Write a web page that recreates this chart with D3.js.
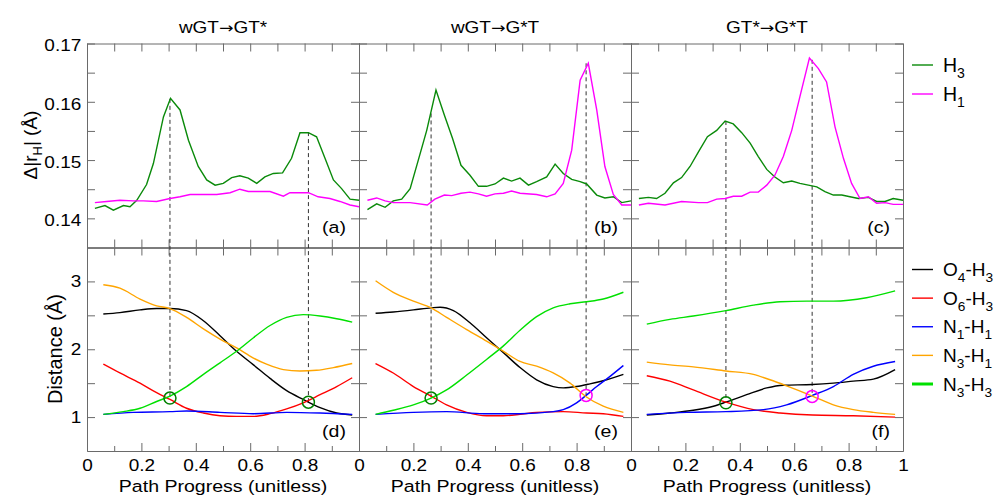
<!DOCTYPE html>
<html>
<head>
<meta charset="utf-8">
<script src="https://cdn.jsdelivr.net/npm/d3@7"></script>
<style>
  body { margin: 0; background: #fff; }
  text { font-family: "Liberation Sans", Arial, Helvetica, sans-serif; }
</style>
</head>
<body>
<svg id="chart" width="997" height="495"></svg>
<script>
// panel titles and tags
var titles = [["wGT", "GT*"], ["wGT", "G*T"], ["GT*", "G*T"]];
var topTags = ["(a)", "(b)", "(c)"];
var botTags = ["(d)", "(e)", "(f)"];

// top row: delta |r_H| (A), [progress, value]
var h3A = [[0.029,0.1417],[0.066,0.1422],[0.097,0.1414],[0.134,0.1422],[0.158,0.142],[0.183,0.1431],[0.219,0.1458],[0.244,0.1494],[0.281,0.1574],[0.307,0.1606],[0.342,0.1586],[0.373,0.1534],[0.409,0.1489],[0.44,0.1466],[0.471,0.1457],[0.501,0.146],[0.532,0.147],[0.562,0.1473],[0.593,0.1469],[0.624,0.146],[0.654,0.1471],[0.685,0.1477],[0.719,0.1478],[0.752,0.1503],[0.783,0.1547],[0.814,0.1547],[0.844,0.154],[0.875,0.1503],[0.906,0.1466],[0.936,0.1451],[0.967,0.1433],[1.0,0.1431]];
var h1A = [[0.029,0.1427],[0.072,0.1429],[0.121,0.1431],[0.17,0.143],[0.207,0.143],[0.256,0.1429],[0.305,0.1434],[0.342,0.1437],[0.379,0.1441],[0.428,0.1441],[0.477,0.1441],[0.526,0.1444],[0.562,0.145],[0.593,0.1446],[0.63,0.1446],[0.673,0.1446],[0.722,0.1438],[0.746,0.1444],[0.814,0.1444],[0.85,0.1437],[0.893,0.1434],[0.93,0.1429],[0.967,0.1423],[1.0,0.142]];
var h3B = [[0.031,0.1415],[0.065,0.1425],[0.096,0.1419],[0.126,0.143],[0.157,0.1433],[0.188,0.1451],[0.218,0.15],[0.249,0.1551],[0.283,0.162],[0.314,0.1577],[0.344,0.1537],[0.375,0.1491],[0.408,0.1474],[0.439,0.1455],[0.469,0.1455],[0.5,0.1459],[0.531,0.1469],[0.561,0.1464],[0.592,0.1469],[0.623,0.1457],[0.653,0.1463],[0.69,0.1471],[0.721,0.1493],[0.751,0.1477],[0.782,0.1467],[0.813,0.1463],[0.837,0.1459],[0.874,0.144],[0.904,0.1435],[0.935,0.1437],[0.966,0.1427],[1.0,0.143]];
var h1B = [[0.031,0.1431],[0.065,0.1435],[0.096,0.143],[0.126,0.1427],[0.188,0.1427],[0.251,0.1423],[0.279,0.1433],[0.314,0.144],[0.341,0.1439],[0.375,0.1443],[0.408,0.1445],[0.439,0.1442],[0.469,0.1438],[0.5,0.1442],[0.531,0.1443],[0.561,0.1447],[0.592,0.1443],[0.653,0.1441],[0.69,0.1437],[0.721,0.1442],[0.751,0.146],[0.782,0.1517],[0.813,0.1637],[0.843,0.1666],[0.874,0.1586],[0.904,0.1489],[0.935,0.1441],[0.966,0.1423],[1.0,0.1423]];
var h3C = [[0.029,0.1434],[0.064,0.1436],[0.094,0.1434],[0.125,0.1443],[0.156,0.1461],[0.186,0.147],[0.217,0.1489],[0.248,0.1514],[0.281,0.154],[0.315,0.1551],[0.346,0.1567],[0.376,0.1562],[0.407,0.1547],[0.438,0.1529],[0.468,0.1506],[0.499,0.1484],[0.529,0.1471],[0.56,0.1461],[0.591,0.1464],[0.621,0.146],[0.652,0.1457],[0.683,0.1454],[0.713,0.1446],[0.744,0.144],[0.775,0.144],[0.805,0.1437],[0.836,0.1434],[0.873,0.1436],[0.903,0.1429],[0.934,0.1429],[0.964,0.1434],[1.0,0.1431]];
var h1C = [[0.029,0.1423],[0.064,0.1426],[0.125,0.1423],[0.186,0.1429],[0.248,0.1427],[0.281,0.1427],[0.315,0.1433],[0.346,0.1434],[0.376,0.1438],[0.407,0.1438],[0.438,0.1445],[0.468,0.1445],[0.499,0.1457],[0.529,0.1474],[0.56,0.1506],[0.591,0.1551],[0.621,0.1609],[0.656,0.1675],[0.689,0.1657],[0.719,0.1634],[0.75,0.1557],[0.781,0.1503],[0.811,0.146],[0.842,0.1434],[0.873,0.1437],[0.903,0.1426],[0.934,0.1427],[0.964,0.1424],[1.0,0.1424]];

// bottom row: distances (A)
var o4h3D = [[0.06,2.52],[0.121,2.54],[0.195,2.58],[0.256,2.6],[0.305,2.6],[0.366,2.57],[0.428,2.42],[0.489,2.2],[0.55,1.97],[0.612,1.77],[0.673,1.57],[0.734,1.39],[0.795,1.26],[0.857,1.14],[0.918,1.06],[0.975,1.03]];
var o6h3D = [[0.06,1.78],[0.121,1.65],[0.195,1.5],[0.256,1.36],[0.305,1.26],[0.366,1.13],[0.428,1.06],[0.489,1.02],[0.55,1.01],[0.612,1.01],[0.673,1.05],[0.734,1.12],[0.795,1.21],[0.857,1.33],[0.918,1.45],[0.975,1.58]];
var n1h1D = [[0.06,1.04],[0.17,1.07],[0.305,1.08],[0.366,1.09],[0.489,1.07],[0.612,1.05],[0.734,1.07],[0.857,1.06],[0.975,1.04]];
var n3h1D = [[0.06,2.95],[0.121,2.9],[0.195,2.74],[0.256,2.64],[0.305,2.6],[0.366,2.47],[0.428,2.3],[0.489,2.15],[0.55,2.02],[0.612,1.87],[0.66,1.78],[0.722,1.7],[0.783,1.68],[0.844,1.69],[0.906,1.73],[0.975,1.79]];
var n3h3D = [[0.06,1.04],[0.134,1.08],[0.195,1.13],[0.256,1.23],[0.305,1.31],[0.366,1.45],[0.428,1.63],[0.489,1.8],[0.55,1.97],[0.612,2.17],[0.673,2.35],[0.734,2.47],[0.795,2.51],[0.857,2.49],[0.918,2.45],[0.975,2.4]];

var o4h3E = [[0.061,2.53],[0.126,2.55],[0.2,2.58],[0.265,2.61],[0.298,2.62],[0.347,2.57],[0.408,2.39],[0.469,2.17],[0.531,1.95],[0.592,1.73],[0.653,1.55],[0.714,1.45],[0.751,1.43],[0.8,1.45],[0.849,1.49],[0.91,1.55],[0.972,1.63]];
var o6h3E = [[0.061,1.79],[0.126,1.65],[0.2,1.45],[0.265,1.31],[0.322,1.18],[0.396,1.07],[0.469,1.02],[0.531,1.02],[0.592,1.04],[0.653,1.07],[0.751,1.08],[0.837,1.06],[0.898,1.05],[0.972,1.01]];
var n1h1E = [[0.061,1.04],[0.2,1.07],[0.322,1.08],[0.457,1.05],[0.592,1.05],[0.714,1.08],[0.751,1.11],[0.8,1.21],[0.835,1.32],[0.874,1.45],[0.923,1.6],[0.972,1.76]];
var n3h1E = [[0.061,3.01],[0.126,2.84],[0.2,2.71],[0.265,2.61],[0.322,2.47],[0.396,2.29],[0.469,2.12],[0.531,1.97],[0.592,1.82],[0.653,1.75],[0.714,1.65],[0.776,1.5],[0.835,1.3],[0.898,1.16],[0.972,1.07]];
var n3h3E = [[0.061,1.04],[0.126,1.1],[0.2,1.18],[0.265,1.28],[0.322,1.4],[0.396,1.62],[0.469,1.85],[0.531,2.05],[0.592,2.28],[0.653,2.48],[0.714,2.61],[0.776,2.67],[0.837,2.7],[0.898,2.74],[0.972,2.84]];

var o4h3F = [[0.058,1.03],[0.143,1.06],[0.229,1.1],[0.303,1.16],[0.349,1.22],[0.425,1.33],[0.499,1.43],[0.56,1.47],[0.667,1.48],[0.744,1.5],[0.817,1.53],[0.891,1.56],[0.971,1.7]];
var o6h3F = [[0.058,1.61],[0.143,1.53],[0.229,1.4],[0.349,1.22],[0.45,1.11],[0.548,1.06],[0.667,1.03],[0.817,1.02],[0.971,1.0]];
var n1h1F = [[0.058,1.04],[0.205,1.07],[0.349,1.08],[0.487,1.11],[0.572,1.18],[0.667,1.32],[0.744,1.45],[0.817,1.63],[0.891,1.75],[0.971,1.82]];
var n3h1F = [[0.058,1.81],[0.143,1.77],[0.229,1.74],[0.349,1.68],[0.45,1.63],[0.511,1.55],[0.572,1.46],[0.667,1.31],[0.744,1.18],[0.817,1.11],[0.891,1.07],[0.971,1.04]];
var n3h3F = [[0.058,2.37],[0.143,2.44],[0.229,2.49],[0.349,2.57],[0.45,2.65],[0.548,2.7],[0.646,2.71],[0.744,2.71],[0.866,2.76],[0.971,2.86]];

// dashed guides: progress, top-row value, bottom-row distance, which H
var marksA = [[0.305,0.1605,1.28,"H3"],[0.814,0.1548,1.22,"H3"]];
var marksB = [[0.265,0.158,1.28,"H3"],[0.835,0.1666,1.32,"H1"]];
var marksC = [[0.349,0.1567,1.21,"H3"],[0.666,0.1672,1.305,"H1"]];

// ticks and legends
var xMajor = [0, 0.2, 0.4, 0.6, 0.8, 1];
var xMinor = [0.1, 0.3, 0.5, 0.7, 0.9];
var topYTicks = [0.14, 0.145, 0.15, 0.155, 0.16, 0.165, 0.17];
var botYTicks = [1, 1.5, 2, 2.5, 3];
var topLegend = ["H3", "H1"];
var botLegend = ["O4-H3", "O6-H3", "N1-H1", "N3-H1", "N3-H3"];

var topRows = [[h3A, h1A], [h3B, h1B], [h3C, h1C]];
var botRows = [[o4h3D, o6h3D, n1h1D, n3h1D, n3h3D], [o4h3E, o6h3E, n1h1E, n3h1E, n3h3E], [o4h3F, o6h3F, n1h1F, n3h1F, n3h3F]];
var marks = [marksA, marksB, marksC];

var topColors = {"H3": "#0a8a0a", "H1": "#ff00ff"};
var botColors = ["#000000", "#ff0000", "#0000ff", "#ffa500", "#00e000"];
var frameColor = "#6a6a6a";
var stretch = "scale(1.15,1)";

var svg = d3.select("#chart");
var panelW = 272, firstLeft = 87;
var yTop = d3.scaleLinear().domain([0.135, 0.17]).range([247.5, 43.5]);
var yBot = d3.scaleLinear().domain([0.5, 3.5]).range([451, 247.5]);

function label(g, x, y, str, size, anchor) {
    // horizontally stretched text to match the original print
    return g.append("text")
        .attr("transform", "translate(" + x + "," + y + ") " + stretch)
        .attr("text-anchor", anchor || "middle")
        .attr("font-size", size)
        .attr("fill", "#000")
        .text(str);
}

function subText(g, x, y, str, size) {
    // digits become subscripts
    var t = g.append("text").attr("x", x).attr("y", y).attr("font-size", size).attr("fill", "#000");
    var parts = str.match(/\d+|\D+/g);
    var down = false;
    parts.forEach(function(p) {
        var isSub = /\d/.test(p);
        var dy = isSub ? (down ? 0 : 6) : (down ? -6 : 0);
        t.append("tspan").attr("dy", dy).attr("font-size", isSub ? size * 0.72 : size).text(p);
        down = isSub;
    });
    return t;
}

function styleAxis(g) {
    g.attr("font-family", null).attr("font-size", null);
    g.selectAll("path, line").attr("stroke", frameColor).attr("stroke-width", 1);
    g.selectAll("text").attr("fill", "#000").attr("font-size", 16.5).attr("transform", stretch);
}

function drawFrame(g, x, y, yTicks, yFmt, showX, showY, last) {
    var top = y.range()[1], bottom = y.range()[0];
    g.append("g").attr("transform", "translate(0," + top + ")")
        .call(d3.axisTop(x).tickValues(xMajor.concat(xMinor)).tickSize(-8).tickSizeOuter(0).tickFormat(""))
        .call(styleAxis);
    g.append("g").attr("transform", "translate(0," + bottom + ")")
        .call(d3.axisBottom(x).tickValues(xMinor).tickSize(showX ? -5 : -8).tickSizeOuter(0).tickFormat(""))
        .call(styleAxis);
    g.append("g").attr("transform", "translate(0," + bottom + ")")
        .call(d3.axisBottom(x).tickValues(xMajor).tickSize(-8).tickSizeOuter(0).tickPadding(8)
            .tickFormat(function(d) { return showX && (d < 1 || last) ? d3.format("~g")(d) : ""; }))
        .call(styleAxis);
    var la = g.append("g").attr("transform", "translate(" + x(0) + ",0)")
        .call(d3.axisLeft(y).tickValues(yTicks).tickSize(-8).tickSizeOuter(0).tickPadding(5)
            .tickFormat(showY ? yFmt : ""))
        .call(styleAxis);
    la.selectAll("text").attr("dy", y === yTop ? "0.45em" : "0.32em");
    g.append("g").attr("transform", "translate(" + x(1) + ",0)")
        .call(d3.axisRight(y).tickValues(yTicks).tickSize(-8).tickSizeOuter(0).tickFormat(""))
        .call(styleAxis);
}

var topFmt = function(d) { return Math.round(d * 1000) % 10 === 0 ? d3.format(".2f")(d) : ""; };
var botFmt = function(d) { return d % 1 === 0 ? d3.format("d")(d) : ""; };

for (var i = 0; i < 3; i++) {
    var left = firstLeft + i * panelW;
    var x = d3.scaleLinear().domain([0, 1]).range([left, left + panelW]);
    var g = svg.append("g");

    drawFrame(g, x, yTop, topYTicks, topFmt, false, i === 0, i === 2);
    drawFrame(g, x, yBot, botYTicks, botFmt, true, i === 0, i === 2);

    // dashed guides across both rows
    g.selectAll(".guide").data(marks[i]).enter().append("line")
        .attr("x1", function(d) { return x(d[0]); })
        .attr("x2", function(d) { return x(d[0]); })
        .attr("y1", function(d) { return yTop(d[1]); })
        .attr("y2", function(d) { return yBot(d[2]); })
        .attr("stroke", "#333").attr("stroke-width", 1).attr("stroke-dasharray", "4,3");

    var topLine = d3.line().x(function(d) { return x(d[0]); }).y(function(d) { return yTop(d[1]); });
    topRows[i].forEach(function(s, k) {
        g.append("path").datum(s).attr("d", topLine).attr("fill", "none")
            .attr("stroke", topColors[topLegend[k]]).attr("stroke-width", 1.4);
    });

    var botLine = d3.line().curve(d3.curveMonotoneX)
        .x(function(d) { return x(d[0]); }).y(function(d) { return yBot(d[1]); });
    botRows[i].forEach(function(s, k) {
        g.append("path").datum(s).attr("d", botLine).attr("fill", "none")
            .attr("stroke", botColors[k]).attr("stroke-width", 1.4);
    });

    g.selectAll(".ring").data(marks[i]).enter().append("circle")
        .attr("cx", function(d) { return x(d[0]); })
        .attr("cy", function(d) { return yBot(d[2]); })
        .attr("r", 6)
        .attr("fill", "none")
        .attr("stroke", function(d) { return d[3] === "H3" ? "#008000" : "#ff00ff"; })
        .attr("stroke-width", 1.5);

    // title with a full-width arrow
    var tt = label(g, left + panelW / 2, 33, titles[i][0], 16.5);
    tt.append("tspan").attr("font-family", "DejaVu Sans").attr("font-size", 15).text("\u2192");
    tt.append("tspan").text(titles[i][1]);

    label(g, left + panelW - 13, 233, topTags[i], 17, "end");
    label(g, left + panelW - 13, 437, botTags[i], 17, "end");
    label(g, left + panelW / 2, 492, "Path Progress (unitless)", 17);
}

// y axis titles
var yl = svg.append("text").attr("transform", "translate(37,145) rotate(-90)")
    .attr("text-anchor", "middle").attr("font-size", 19).attr("fill", "#000");
yl.append("tspan").text("\u0394|r");
yl.append("tspan").attr("dy", 5).attr("font-size", 13).text("H");
yl.append("tspan").attr("dy", -5).text("| (\u00c5)");
svg.append("text").attr("transform", "translate(62,349) rotate(-90)")
    .attr("text-anchor", "middle").attr("font-size", 20).attr("fill", "#000")
    .text("Distance (\u00c5)");

// legends
var lg = svg.append("g");
var topLegY = d3.scalePoint().domain(topLegend).range([65, 94]);
topLegend.forEach(function(name) {
    lg.append("line").attr("x1", 912).attr("x2", 933)
        .attr("y1", topLegY(name)).attr("y2", topLegY(name))
        .attr("stroke", topColors[name]).attr("stroke-width", 1.4);
    subText(lg, 943, topLegY(name) + 6.5, name, 19.5);
});
var botLegY = d3.scalePoint().domain(botLegend).range([269.5, 384]);
botLegend.forEach(function(name, k) {
    lg.append("line").attr("x1", 912).attr("x2", 933)
        .attr("y1", botLegY(name)).attr("y2", botLegY(name))
        .attr("stroke", botColors[k]).attr("stroke-width", k === 4 ? 3 : 1.4);
    subText(lg, 943, botLegY(name) + 6.5, name, 19);
});
</script>
</body>
</html>
